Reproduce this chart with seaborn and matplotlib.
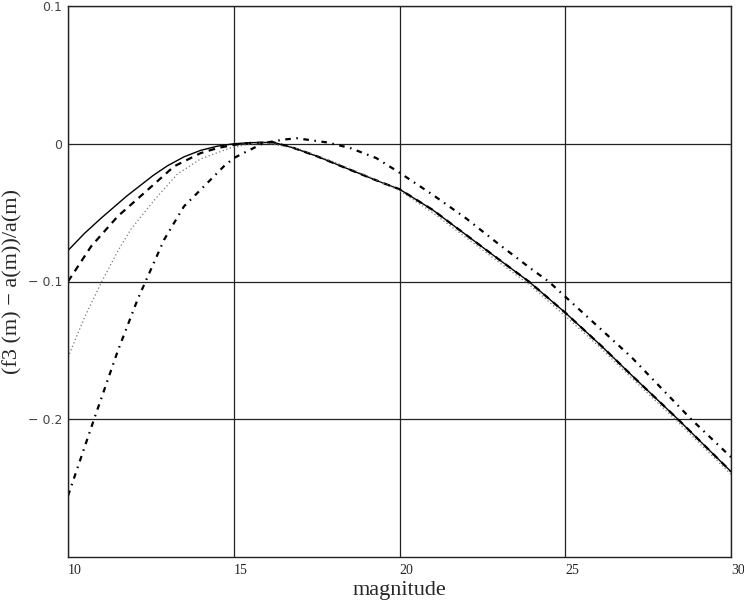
"""
相対誤差 (f3(m) - a(m))/a(m) を magnitude に対して描く
"""

import numpy as np
import pandas as pd
import matplotlib
matplotlib.use('Agg')
import matplotlib.pyplot as plt
import seaborn as sns

# ================================================================
# データ
# ================================================================

solid_x = [10, 10.5, 11, 11.77, 12.57, 13.0, 13.5, 14, 14.5, 15, 15.5, 16.2, 16.8,
           17.5, 18.5, 19.5, 20, 21, 22, 23, 23.9, 25, 26.1, 27, 28.4, 30]
solid_y = [-0.0775, -0.065, -0.054, -0.038, -0.023, -0.016, -0.0095, -0.0048,
           -0.0018, 0.0, 0.0008, 0.001, -0.003, -0.009, -0.0188, -0.0285, -0.033,
           -0.048, -0.066, -0.084, -0.1, -0.1226, -0.147, -0.168, -0.2, -0.238]

dashed_x = [10, 10.7, 11.5, 12.3, 13.2, 14, 14.5, 15, 15.5, 16.2, 16.8, 17.5, 18.5,
            19.5, 20, 21, 22, 23, 23.9, 25, 26.1, 27, 28.4, 30]
dashed_y = [-0.1, -0.0744, -0.0527, -0.0357, -0.0164, -0.0068, -0.0032, -0.0008,
            0.0006, 0.001, -0.003, -0.009, -0.0188, -0.0285, -0.033, -0.048,
            -0.066, -0.084, -0.1, -0.1226, -0.147, -0.168, -0.2, -0.238]

dotted_x = [10, 10.5, 11, 11.5, 11.9, 12.6, 13.3, 14, 14.9, 15.5, 16, 17, 18, 19,
            20, 21, 22, 23, 23.9, 25, 26.1, 27, 28.4, 30]
dotted_y = [-0.155, -0.126, -0.101, -0.078, -0.062, -0.041, -0.022, -0.011,
            -0.003, 0.0, 0.0005, -0.004, -0.013, -0.023, -0.034, -0.05, -0.068,
            -0.086, -0.102, -0.125, -0.149, -0.17, -0.202, -0.24]

dashdot_x = [10, 10.8, 11.5, 12.1, 12.9, 13.5, 14.1, 14.7, 15, 15.4, 15.9, 16.5,
             16.9, 17.8, 18.5, 19.3, 20, 21, 22, 23, 24, 24.5, 26, 27, 28, 28.8, 30]
dashdot_y = [-0.2556, -0.199, -0.1505, -0.113, -0.0696, -0.0454, -0.031, -0.0164,
             -0.0104, -0.0055, 0.0005, 0.003, 0.004, 0.001, -0.003, -0.0104,
             -0.021, -0.037, -0.054, -0.073, -0.0913, -0.1, -0.133, -0.155,
             -0.18, -0.2, -0.2275]

x_ticks = [10, 15, 20, 25, 30]
y_ticks = [0.1, 0, -0.1, -0.2]
y_tick_labels = ['0.1', '0', '\u2212 0.1', '\u2212 0.2']

X_LABEL = 'magnitude'
Y_LABEL = '(f3 (m) \u2212 a(m))/a(m)'


def main():
    sns.set_style('white')
    plt.rcParams['font.family'] = ['Liberation Serif', 'DejaVu Serif']

    fig = plt.figure(figsize=(7.44, 6.13), dpi=100)
    ax = fig.add_axes([68 / 744, 1 - 557 / 613, (731 - 68) / 744, (557 - 6) / 613])

    # 各曲線（線種ごと）
    series = [
        (solid_x, solid_y, dict(color='black', lw=1.0, linestyle='-')),
        (dashed_x, dashed_y, dict(color='black', lw=1.6, dashes=(3, 2.5))),
        (dotted_x, dotted_y, dict(color='#777777', lw=0.9, dashes=(1, 2))),
        (dashdot_x, dashdot_y, dict(color='black', lw=1.6, dashes=(2.5, 2.5, 0.7, 2.5))),
    ]
    for xs, ys, style in series:
        df = pd.DataFrame({'x': xs, 'y': ys})
        sns.lineplot(data=df, x='x', y='y', ax=ax, sort=False, **style)

    ax.set_xlim(10, 30)
    ax.set_ylim(-0.3, 0.1)
    ax.grid(True, color='#222222', lw=0.9)
    ax.set_axisbelow(True)
    for sp in ax.spines.values():
        sp.set_color('#222222')
        sp.set_linewidth(1.0)

    ax.set_xticks(x_ticks)
    ax.set_xticklabels([str(v) for v in x_ticks], ha='left', fontsize=10)
    ax.set_yticks(y_ticks)
    ax.set_yticklabels(y_tick_labels, family=['DejaVu Sans'], fontsize=9,
                       color='#444444')
    ax.tick_params(axis='both', length=0)
    ax.tick_params(axis='x', pad=5)
    ax.tick_params(axis='y', pad=4)

    ax.set_xlabel(X_LABEL, fontsize=16, labelpad=3)
    ax.set_ylabel(Y_LABEL, fontsize=16, labelpad=4)

    fig.savefig('out.png', dpi=100)
    plt.close(fig)


if __name__ == '__main__':
    main()
